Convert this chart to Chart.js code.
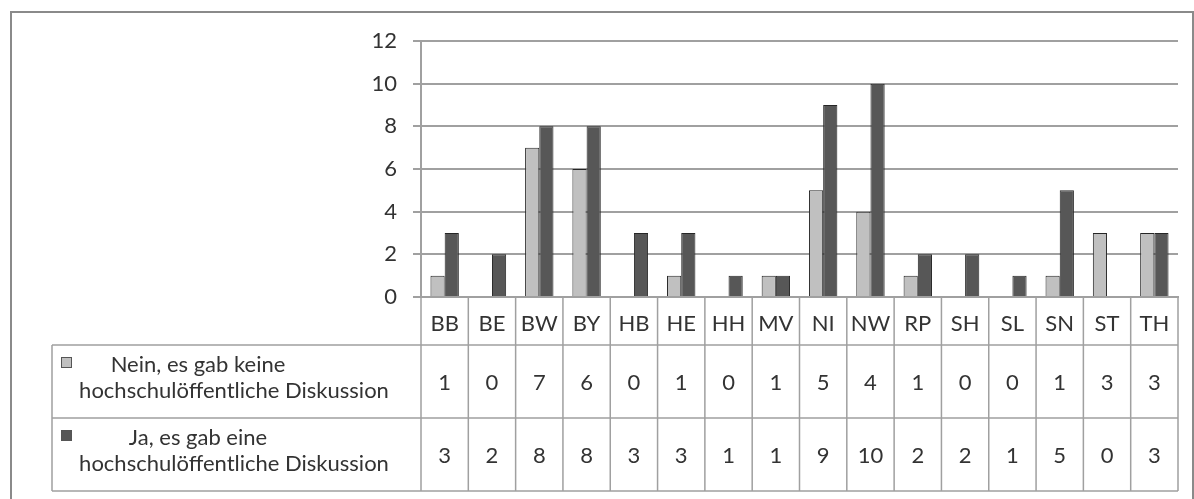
<!DOCTYPE html>
<html><head><meta charset="utf-8">
<script src="https://cdn.jsdelivr.net/npm/chart.js@4"></script>
<style>
html,body{margin:0;padding:0;background:#fff;}
#wrap{position:relative;width:1194px;height:499px;overflow:hidden;background:#fff;}
#frame{position:absolute;left:10px;top:11px;width:1184px;height:540px;border:2px solid #8a8a8a;box-sizing:border-box;}
#c{position:absolute;left:0;top:0;}
</style></head><body>
<div id="wrap"><div id="frame"></div><canvas id="c" width="1194" height="499"></canvas></div>
<script>
const categories = ['BB','BE','BW','BY','HB','HE','HH','MV','NI','NW','RP','SH','SL','SN','ST','TH'];
const neinValues = [1,0,7,6,0,1,0,1,5,4,1,0,0,1,3,3];
const jaValues   = [3,2,8,8,3,3,1,1,9,10,2,2,1,5,0,3];
const neinLabel = ['Nein, es gab keine', 'hochschulöffentliche Diskussion'];
const jaLabel   = ['Ja, es gab eine', 'hochschulöffentliche Diskussion'];
const yMin = 0, yMax = 12, yStep = 2;

const FONT = 'Lato';
const TEXT = '#333333';
const LINE = '#a0a0a0';
const NEIN_COLOR = '#c0c0c0';
const JA_COLOR = '#575757';
const BAR_BORDER = '#262626';
const CAT_H = 48, ROW_H = 73, LEGEND_LEFT = 52;
const FS = 22;

const series = [
  {label: neinLabel, values: neinValues, color: NEIN_COLOR},
  {label: jaLabel, values: jaValues, color: JA_COLOR}
];

const tablePlugin = {
  id: 'dataTable',
  afterDraw(chart) {
    const ctx = chart.ctx, xs = chart.scales.x, area = chart.chartArea;
    const n = categories.length;
    const colW = (area.right - area.left) / n;
    const top = area.bottom, rowTop = top + CAT_H, bottom = rowTop + ROW_H * series.length;
    ctx.save();
    ctx.strokeStyle = LINE; ctx.lineWidth = 1.5;
    ctx.beginPath();
    for (let i = 0; i <= n; i++) {
      const px = (i < n ? xs.getPixelForValue(i) - colW / 2 : xs.getPixelForValue(n - 1) + colW / 2);
      ctx.moveTo(px, top); ctx.lineTo(px, bottom);
    }
    for (let r = 0; r <= series.length; r++) {
      const py = rowTop + r * ROW_H;
      ctx.moveTo(LEGEND_LEFT, py); ctx.lineTo(area.right, py);
    }
    ctx.moveTo(LEGEND_LEFT, rowTop); ctx.lineTo(LEGEND_LEFT, bottom);
    ctx.stroke();

    ctx.textBaseline = 'middle';
    series.forEach((s, r) => {
      const rt = rowTop + r * ROW_H;
      ctx.fillStyle = s.color;
      ctx.fillRect(61, rt + 12, 11, 11);
      ctx.strokeStyle = '#555'; ctx.lineWidth = 1;
      ctx.strokeRect(61.5, rt + 12.5, 10, 10);
      ctx.fillStyle = TEXT;
      ctx.font = FS + 'px ' + FONT;
      ctx.textAlign = 'center';
      ctx.fillText(s.label[0], LEGEND_LEFT + 146, rt + 20);
      ctx.fillText(s.label[1], LEGEND_LEFT + 182, rt + 46);
      s.values.forEach((v, i) => {
        ctx.fillText(String(v), xs.getPixelForValue(i), rt + ROW_H / 2 + 1);
      });
    });
    ctx.restore();
  }
};

new Chart(document.getElementById('c'), {
  type: 'bar',
  data: {
    labels: categories,
    datasets: series.map(s => ({
      label: s.label.join(' '),
      data: s.values,
      backgroundColor: s.color,
      borderColor: BAR_BORDER,
      borderWidth: c => (c.raw === 0 ? 0 : 1),
      categoryPercentage: 0.6,
      barPercentage: 1.0
    }))
  },
  options: {
    responsive: false,
    animation: false,
    layout: {padding: {left: 361, right: 16, top: 41, bottom: 154}},
    plugins: {legend: {display: false}, tooltip: {enabled: false}},
    scales: {
      x: {
        offset: true,
        grid: {display: false},
        border: {display: true, color: LINE, width: 2},
        ticks: {color: TEXT, font: {family: FONT, size: FS}, padding: 6, maxRotation: 0, autoSkip: false},
        afterFit: s => { s.height = CAT_H; }
      },
      y: {
        min: yMin, max: yMax,
        grid: {color: LINE, lineWidth: 2, tickLength: 8},
        border: {display: true, color: LINE, width: 2},
        ticks: {stepSize: yStep, color: TEXT, font: {family: FONT, size: FS}, padding: 16},
        afterFit: s => { s.width = 60; }
      }
    }
  },
  plugins: [tablePlugin]
});
</script>
</body></html>
